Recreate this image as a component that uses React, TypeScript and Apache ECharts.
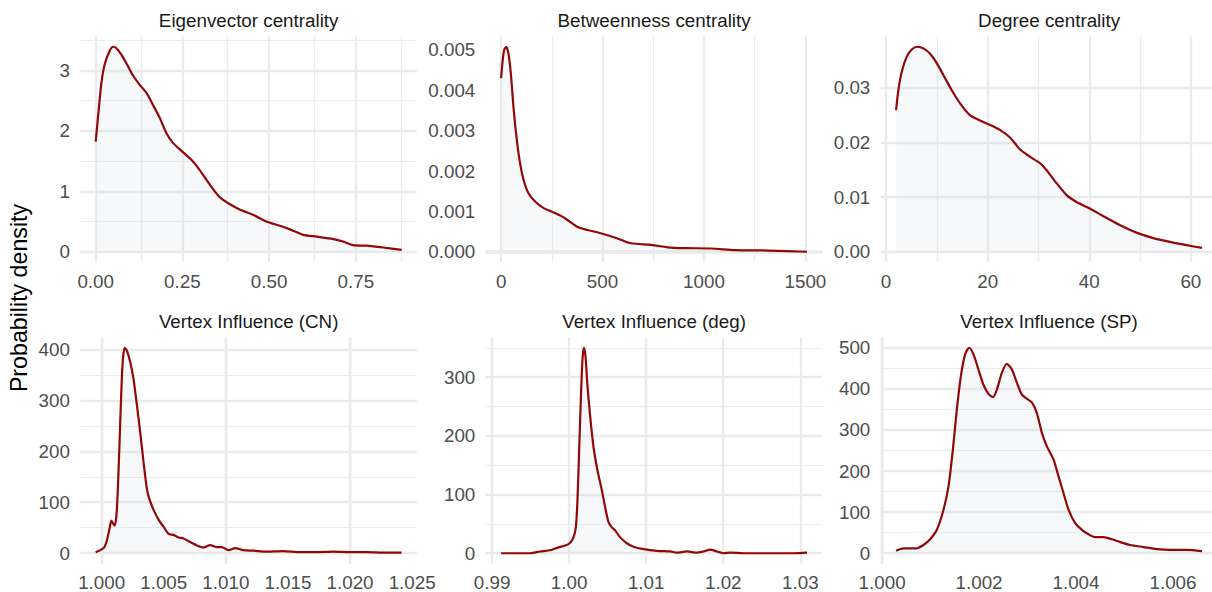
import React, { useEffect, useRef } from "react";
import * as echarts from "echarts";

// ---------- Data ----------
const eigX = [0, 0.0087, 0.0164, 0.026, 0.04, 0.05, 0.059, 0.074, 0.093, 0.108, 0.127, 0.146, 0.165, 0.185, 0.204, 0.223, 0.249, 0.276, 0.3, 0.329, 0.358, 0.386, 0.415, 0.454, 0.492, 0.531, 0.56, 0.598, 0.637, 0.685, 0.713, 0.742, 0.781, 0.829, 0.882];
const eigY = [1.82, 2.35, 2.79, 3.1, 3.32, 3.39, 3.37, 3.26, 3.07, 2.91, 2.76, 2.63, 2.43, 2.21, 1.96, 1.8, 1.66, 1.52, 1.35, 1.11, 0.9, 0.79, 0.7, 0.61, 0.5, 0.43, 0.37, 0.28, 0.25, 0.21, 0.17, 0.11, 0.1, 0.07, 0.03];

const betX = [0, 8, 15, 25, 36, 48, 61, 74, 91, 111, 135, 169, 210, 251, 309, 375, 425, 491, 574, 640, 739, 822, 905, 1037, 1153, 1318, 1508];
const betY = [0.0043, 0.00475, 0.005, 0.00508, 0.00492, 0.00442, 0.00359, 0.00293, 0.00227, 0.00178, 0.00145, 0.00124, 0.00108, 0.00099, 0.00085, 0.00062, 0.00054, 0.00046, 0.00033, 0.00021, 0.00017, 0.00011, 0.00009, 0.00008, 0.00004, 0.00003, 0.0];

const degX = [1.97, 2.42, 3.08, 4.07, 5.05, 6.16, 7.34, 8.66, 9.97, 11.3, 12.9, 14.6, 16.5, 18.5, 20.5, 22.4, 24.4, 26.4, 28.3, 30.3, 31.6, 33.6, 35.5, 37.5, 40.1, 42.8, 46.0, 49.3, 52.6, 55.9, 59.2, 62.2];
const degY = [0.0259, 0.0296, 0.0329, 0.0357, 0.037, 0.0375, 0.0372, 0.0362, 0.0345, 0.0323, 0.0296, 0.0271, 0.025, 0.024, 0.0232, 0.0223, 0.0209, 0.0187, 0.0174, 0.0162, 0.0149, 0.0125, 0.0104, 0.0091, 0.0079, 0.0065, 0.0049, 0.0035, 0.0025, 0.0018, 0.0012, 0.0007];

const cnX = [0.99952, 0.9999, 1.00022, 1.00043, 1.00064, 1.00078, 1.00092, 1.00105, 1.00118, 1.00129, 1.00142, 1.00156, 1.00169, 1.00185, 1.00204, 1.00231, 1.00257, 1.00285, 1.00311, 1.00338, 1.00365, 1.00386, 1.00418, 1.00458, 1.00498, 1.00539, 1.00579, 1.00619, 1.00659, 1.00713, 1.00767, 1.0082, 1.00874, 1.00922, 1.00968, 1.01021, 1.01075, 1.01142, 1.01222, 1.0133, 1.01463, 1.01597, 1.01732, 1.01865, 1.01999, 1.02134, 1.02267, 1.02415];
const cnY = [2, 6, 12, 26, 49, 64, 58, 54, 72, 118, 203, 302, 374, 403, 397, 374, 341, 288, 236, 177, 125, 105, 85, 66, 52, 38, 36, 31, 29, 22, 15, 11, 16, 12, 12, 6, 10, 6, 5, 3, 4, 2, 2, 3, 2, 2, 1, 1];

const degInfX = [0.99117, 0.99234, 0.99364, 0.99494, 0.99623, 0.99753, 0.99861, 0.99948, 1.00013, 1.00056, 1.00087, 1.00108, 1.0013, 1.00152, 1.00173, 1.00191, 1.00212, 1.00238, 1.00273, 1.00316, 1.00368, 1.00425, 1.00468, 1.00511, 1.00555, 1.00597, 1.00662, 1.00749, 1.00835, 1.00965, 1.01139, 1.01312, 1.01398, 1.01528, 1.01658, 1.01744, 1.01831, 1.01918, 1.02004, 1.02091, 1.02264, 1.02481, 1.02697, 1.02913, 1.03087];
const degInfY = [0, 0, 0, 0, 3, 5, 10, 13, 18, 27, 44, 90, 176, 262, 330, 350, 336, 285, 233, 181, 141, 107, 78, 53, 44, 39, 27, 17, 11, 7, 4, 3, 1, 3, 1, 3, 6, 3, 0, 1, 0, 0, 0, 0, 1];

const spX = [1.000289, 1.00044, 1.000578, 1.000716, 1.000853, 1.000991, 1.001129, 1.001267, 1.001369, 1.00146, 1.001542, 1.001625, 1.001713, 1.001796, 1.001885, 1.001988, 1.002091, 1.002194, 1.002285, 1.002367, 1.00247, 1.002574, 1.002677, 1.00278, 1.002883, 1.002987, 1.00309, 1.003193, 1.003296, 1.0034, 1.003537, 1.00364, 1.003743, 1.003846, 1.003984, 1.004122, 1.004258, 1.004396, 1.004568, 1.004741, 1.004912, 1.005118, 1.005393, 1.00567, 1.005944, 1.006289, 1.006599];
const spY = [6, 12, 12, 12, 20, 34, 57, 106, 162, 252, 350, 431, 484, 500, 484, 447, 410, 388, 380, 398, 439, 461, 447, 415, 386, 376, 367, 341, 293, 260, 228, 187, 146, 106, 73, 57, 46, 39, 39, 34, 27, 20, 15, 10, 8, 8, 5];

// ---------- Titles & tick labels ----------
const panelTitles = ["Eigenvector centrality", "Betweenness centrality", "Degree centrality", "Vertex Influence (CN)", "Vertex Influence (deg)", "Vertex Influence (SP)"];
const yAxisTitle = "Probability density";

const eigXBreaks = [0, 0.25, 0.5, 0.75];
const eigXLabels = ["0.00", "0.25", "0.50", "0.75"];
const eigXMinor = [0.125, 0.375, 0.625, 0.875];
const eigYBreaks = [0, 1, 2, 3];
const eigYLabels = ["0", "1", "2", "3"];
const eigYMinor = [0.5, 1.5, 2.5, 3.5];

const betXBreaks = [0, 500, 1000, 1500];
const betXLabels = ["0", "500", "1000", "1500"];
const betXMinor = [250, 750, 1250];
const betYBreaks = [0, 0.001, 0.002, 0.003, 0.004, 0.005];
const betYLabels = ["0.000", "0.001", "0.002", "0.003", "0.004", "0.005"];
const betYMinor = [0.0005, 0.0015, 0.0025, 0.0035, 0.0045];

const degXBreaks = [0, 20, 40, 60];
const degXLabels = ["0", "20", "40", "60"];
const degXMinor = [10, 30, 50];
const degYBreaks = [0, 0.01, 0.02, 0.03];
const degYLabels = ["0.00", "0.01", "0.02", "0.03"];
const degYMinor = [0.005, 0.015, 0.025, 0.035];

const cnXBreaks = [1.0, 1.005, 1.01, 1.015, 1.02, 1.025];
const cnXLabels = ["1.000", "1.005", "1.010", "1.015", "1.020", "1.025"];
const cnXMinor = [1.0025, 1.0075, 1.0125, 1.0175, 1.0225];
const cnYBreaks = [0, 100, 200, 300, 400];
const cnYLabels = ["0", "100", "200", "300", "400"];
const cnYMinor = [50, 150, 250, 350];

const degInfXBreaks = [0.99, 1.0, 1.01, 1.02, 1.03];
const degInfXLabels = ["0.99", "1.00", "1.01", "1.02", "1.03"];
const degInfXMinor = [0.995, 1.005, 1.015, 1.025];
const degInfYBreaks = [0, 100, 200, 300];
const degInfYLabels = ["0", "100", "200", "300"];
const degInfYMinor = [50, 150, 250, 350];

const spXBreaks = [1.0, 1.002, 1.004, 1.006];
const spXLabels = ["1.000", "1.002", "1.004", "1.006"];
const spXMinor = [1.001, 1.003, 1.005];
const spYBreaks = [0, 100, 200, 300, 400, 500];
const spYLabels = ["0", "100", "200", "300", "400", "500"];
const spYMinor = [50, 150, 250, 350, 450];

// ---------- Styling / layout ----------
const FONT = '"Liberation Sans", Arial, Helvetica, sans-serif';
const AXIS_TEXT = "#4D4D4D";
const STRIP_TEXT = "#1A1A1A";
const GRID_COLOR = "#EBEBEB";
const LINE_COLOR = "#920808";
const FILL_COLOR = "rgba(205,212,224,0.22)";
const TEXT_SIZE = 18.8;
const TITLE_SIZE = 23.2;
const COL_LEFT = [80.4, 485.8, 880.8];
const COL_WIDTH = 336.5;
const ROW_TOP = [36.5, 337.5];
const ROW_HEIGHT = [225.5, 226];
const TITLE_Y = [20, 321];

type Panel = {
  x: number[]; y: number[];
  xb: number[]; xl: string[]; xm: number[];
  yb: number[]; yl: string[]; ym: number[];
};

const panels: Panel[] = [
  { x: eigX, y: eigY, xb: eigXBreaks, xl: eigXLabels, xm: eigXMinor, yb: eigYBreaks, yl: eigYLabels, ym: eigYMinor },
  { x: betX, y: betY, xb: betXBreaks, xl: betXLabels, xm: betXMinor, yb: betYBreaks, yl: betYLabels, ym: betYMinor },
  { x: degX, y: degY, xb: degXBreaks, xl: degXLabels, xm: degXMinor, yb: degYBreaks, yl: degYLabels, ym: degYMinor },
  { x: cnX, y: cnY, xb: cnXBreaks, xl: cnXLabels, xm: cnXMinor, yb: cnYBreaks, yl: cnYLabels, ym: cnYMinor },
  { x: degInfX, y: degInfY, xb: degInfXBreaks, xl: degInfXLabels, xm: degInfXMinor, yb: degInfYBreaks, yl: degInfYLabels, ym: degInfYMinor },
  { x: spX, y: spY, xb: spXBreaks, xl: spXLabels, xm: spXMinor, yb: spYBreaks, yl: spYLabels, ym: spYMinor },
];

function expand(lo: number, hi: number): [number, number] {
  const d = (hi - lo) * 0.05;
  return [lo - d, hi + d];
}

function labelFor(breaks: number[], labels: string[]) {
  return (v: number) => {
    const span = Math.abs(breaks[breaks.length - 1] - breaks[0]) || 1;
    const i = breaks.findIndex((b) => Math.abs(b - v) < span * 1e-6);
    return i >= 0 ? labels[i] : "";
  };
}

function buildOption() {
  const grids: any[] = [];
  const xAxes: any[] = [];
  const yAxes: any[] = [];
  const series: any[] = [];
  const graphics: any[] = [];

  panels.forEach((p, i) => {
    const col = i % 3;
    const row = Math.floor(i / 3);
    grids.push({
      left: COL_LEFT[col], top: ROW_TOP[row], width: COL_WIDTH, height: ROW_HEIGHT[row],
      containLabel: false, outerBoundsMode: "none", show: false,
    });
    const [xmin, xmax] = expand(Math.min(...p.x), Math.max(...p.x));
    const [ymin, ymax] = expand(0, Math.max(...p.y));
    xAxes.push({
      type: "value", gridIndex: i, min: xmin, max: xmax,
      axisLine: { show: false, onZero: false }, axisTick: { show: false },
      splitLine: { show: false },
      axisLabel: {
        customValues: p.xb, formatter: labelFor(p.xb, p.xl),
        color: AXIS_TEXT, fontSize: TEXT_SIZE, fontFamily: FONT, margin: 9.5,
        showMinLabel: true, showMaxLabel: true, hideOverlap: false,
      },
    });
    yAxes.push({
      type: "value", gridIndex: i, min: ymin, max: ymax,
      axisLine: { show: false, onZero: false }, axisTick: { show: false },
      splitLine: { show: false },
      axisLabel: {
        customValues: p.yb, formatter: labelFor(p.yb, p.yl),
        color: AXIS_TEXT, fontSize: TEXT_SIZE, fontFamily: FONT, margin: 10.5,
        showMinLabel: true, showMaxLabel: true, hideOverlap: false,
      },
    });
    const minorStyle = { color: GRID_COLOR, width: 1.2, type: "solid" };
    const majorStyle = { color: GRID_COLOR, width: 2.3, type: "solid" };
    const gridData = [
      ...p.xm.map((v) => ({ xAxis: v, lineStyle: minorStyle })),
      ...p.ym.map((v) => ({ yAxis: v, lineStyle: minorStyle })),
      ...p.xb.map((v) => ({ xAxis: v, lineStyle: majorStyle })),
      ...p.yb.map((v) => ({ yAxis: v, lineStyle: majorStyle })),
    ];
    series.push({
      type: "line", xAxisIndex: i, yAxisIndex: i, z: 3,
      data: p.x.map((xv, k) => [xv, p.y[k]]),
      smooth: 0.25, symbol: "none", showSymbol: false, silent: true,
      lineStyle: { color: LINE_COLOR, width: 2.2 },
      areaStyle: { color: FILL_COLOR, origin: "auto" },
      markLine: {
        silent: true, symbol: ["none", "none"], z: 1, animation: false,
        label: { show: false }, emphasis: { disabled: true },
        data: gridData,
      },
    });
    graphics.push({
      type: "text", x: COL_LEFT[col] + COL_WIDTH / 2, y: TITLE_Y[row],
      style: {
        text: panelTitles[i], fill: STRIP_TEXT, fontSize: TEXT_SIZE, fontFamily: FONT,
        textAlign: "center", textVerticalAlign: "middle",
      },
    });
  });

  graphics.push({
    type: "text", x: 19, y: 298, rotation: Math.PI / 2,
    style: {
      text: yAxisTitle, fill: "#000000", fontSize: TITLE_SIZE, fontFamily: FONT,
      textAlign: "center", textVerticalAlign: "middle",
    },
  });

  return {
    animation: false,
    backgroundColor: "#FFFFFF",
    grid: grids,
    xAxis: xAxes,
    yAxis: yAxes,
    series,
    graphic: graphics,
  };
}

export default function App() {
  const ref = useRef<HTMLDivElement>(null);
  useEffect(() => {
    if (!ref.current) return;
    const chart = echarts.init(ref.current, undefined, { renderer: "svg" });
    chart.setOption(buildOption() as any);
    return () => chart.dispose();
  }, []);
  return (
    <div
      ref={ref}
      style={{ position: "absolute", left: 0, top: 0, width: 1212, height: 592, background: "#fff" }}
    />
  );
}
